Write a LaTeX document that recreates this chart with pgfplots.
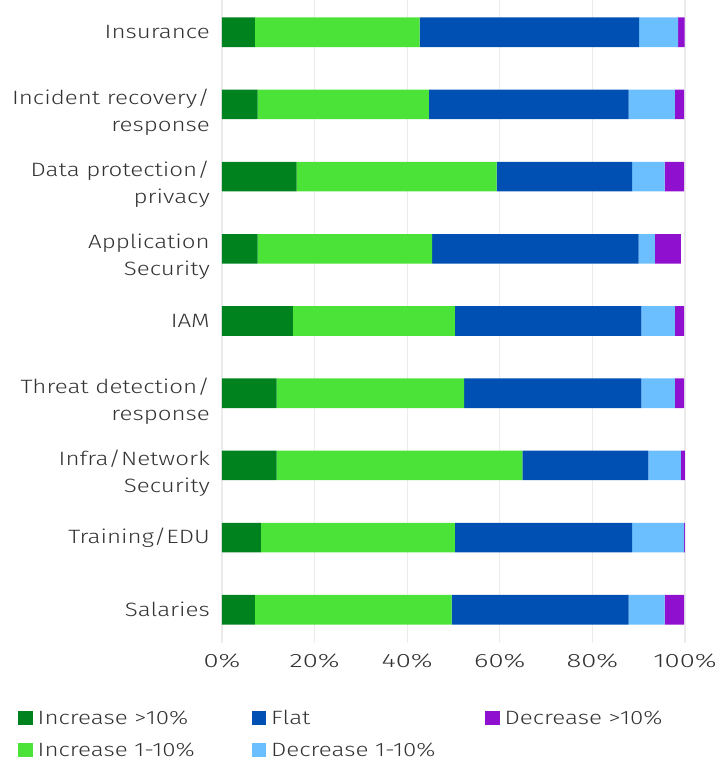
\documentclass[border=0pt]{standalone}
\usepackage{pgfplots}
\pgfplotsset{compat=1.18}
\usepackage{pgfplotstable}
\usepackage{fontspec}
\setmainfont{Fira Sans}[UprightFont=* Light, FakeStretch=1.25]
\newfontfamily\tickfont{Fira Sans}[UprightFont=* Light, FakeStretch=1.42]
\definecolor{incA}{HTML}{00821E}
\definecolor{incB}{HTML}{4BE337}
\definecolor{flat}{HTML}{0050B4}
\definecolor{decB}{HTML}{6BBFFF}
\definecolor{decA}{HTML}{9010D0}
\definecolor{txt}{HTML}{333333}
\definecolor{grd}{HTML}{EBEBEB}
\newcommand{\two}[2]{\begin{tabular}{@{}r@{}}\rule{0pt}{35pt}#1\\#2\end{tabular}}
\pgfplotstableread{
idx incA incB flat decB decA
0 7.1 35.6 47.4 8.4 1.4
1 7.7 37.0 43.1 10.0 2.0
2 16.1 43.2 29.3 7.0 4.2
3 7.7 37.7 44.6 3.5 5.6
4 15.3 35.0 40.3 7.2 2.0
5 11.8 40.5 38.3 7.2 2.0
6 11.8 53.1 27.2 7.0 1.4
7 8.4 41.9 38.3 11.2 0.7
8 7.1 42.5 38.2 7.8 4.2
}\data
\pgfplotsset{legsq/.style={legend image code/.code={\fill[##1,draw=none] (0pt,-6.5pt) rectangle (14.5pt,7.5pt);}}}
\begin{document}
\begin{tikzpicture}
\begin{axis}[
  scale only axis,
  width=463pt, height=643pt,
  xbar stacked,
  bar width=0.41,
  y dir=reverse,
  xmin=0, xmax=100,
  ymin=-0.446, ymax=8.46,
  axis line style={draw=none},
  major tick length=0pt,
  xmajorgrids,
  grid style={grd, line width=1.3pt},
  xtick={0,20,40,60,80,100},
  xticklabels={0\%,20\%,40\%,60\%,80\%,100\%},
  ytick={0,...,8},
  yticklabels={Insurance,{\two{Incident recovery/}{response}},{\two{Data protection/}{privacy}},{\two{Application}{Security}},IAM,{\two{Threat detection/}{response}},{\two{Infra/Network}{Security}},Training/EDU,Salaries},
  yticklabel style={inner sep=0pt, xshift=-12pt, font=\fontsize{19.3}{27}\selectfont, text=txt},
  xticklabel style={inner sep=0pt, yshift=-11pt, font=\fontsize{19.3}{23}\selectfont\tickfont, text=txt},
  /pgf/number format/assume math mode=true,
  legend columns=2,
  transpose legend,
  legend style={draw=none, fill=none, inner sep=0pt, at={(-0.4406,-0.101)}, anchor=north west,
    font=\fontsize{19.3}{23}\selectfont, text=txt,
    /tikz/every odd column/.append style={column sep=3pt},
    /tikz/row sep=13pt},
  legend cell align=left,
]
\addplot[fill=incA, draw=none, legsq] table[x=incA, y=idx] {\data};
\addlegendentry{\makebox[212pt][l]{Increase >10\%}}
\addplot[fill=incB, draw=none, legsq] table[x=incB, y=idx] {\data};
\addlegendentry{\makebox[212pt][l]{Increase 1-10\%}}
\addplot[fill=flat, draw=none, legsq] table[x=flat, y=idx] {\data};
\addlegendentry{\makebox[212pt][l]{Flat}}
\addplot[fill=decB, draw=none, legsq] table[x=decB, y=idx] {\data};
\addlegendentry{\makebox[212pt][l]{Decrease 1-10\%}}
\addplot[fill=decA, draw=none, legsq] table[x=decA, y=idx] {\data};
\addlegendentry{\makebox[212pt][l]{Decrease >10\%}}
\end{axis}
\pgfresetboundingbox
\useasboundingbox ([shift={(-222pt,-118pt)}]current axis.south west) rectangle ++(727pt,761pt);
\end{tikzpicture}
\end{document}
